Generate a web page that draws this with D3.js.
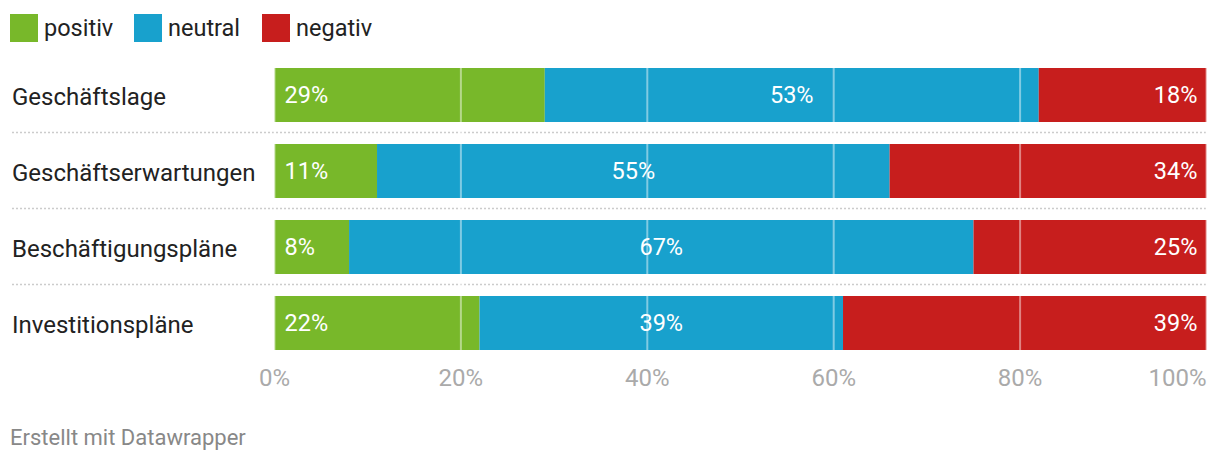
<!DOCTYPE html>
<html><head><meta charset="utf-8">
<script src="https://cdn.jsdelivr.net/npm/d3@7"></script>
<style>body{margin:0;background:#fff;font-family:Roboto,sans-serif}</style>
</head><body><svg id="c" width="1220" height="464"></svg>
<script>
const categories = ["Geschäftslage","Geschäftserwartungen","Beschäftigungspläne","Investitionspläne"];
const seriesNames = ["positiv","neutral","negativ"];
const positiv = [29,11,8,22];
const neutral = [53,55,67,39];
const negativ = [18,34,25,39];
const colors = ["#78b82a","#18a1cd","#c71e1d"];
const ticks = [0,20,40,60,80,100];

const svg = d3.select("#c");
const x = d3.scaleLinear().domain([0,100]).range([274.5,1206.5]);
const y = d3.scaleBand().domain(categories).range([68,350]).paddingInner(22/76).paddingOuter(0);
// legend
const lg = svg.append("g");
const lx = [10,134,262];
seriesNames.forEach((s,i)=>{
  lg.append("rect").attr("x",lx[i]).attr("y",14).attr("width",28).attr("height",28).attr("fill",colors[i]);
  lg.append("text").attr("x",lx[i]+34).attr("y",36).attr("font-size",23.5).attr("fill","#222").text(s);
});
const data = categories.map((c,i)=>({c, v:[positiv[i],neutral[i],negativ[i]]}));
const stack = d3.stack().keys([0,1,2]).value((d,k)=>d.v[k])(data);
// separators
categories.slice(1).forEach(c=>{
  svg.append("line").attr("x1",12).attr("x2",1207).attr("y1",y(c)-11.5).attr("y2",y(c)-11.5)
    .attr("stroke","#ccc").attr("stroke-width",1.5).attr("stroke-dasharray","2,2");
});
// labels
svg.selectAll("text.cat").data(categories).join("text").attr("class","cat")
  .attr("x",12).attr("y",c=>y(c)+y.bandwidth()/2+2).attr("dy","0.35em")
  .attr("font-size",24).attr("fill","#222").text(c=>c);
stack.forEach((layer,k)=>{
  svg.append("g").selectAll("rect").data(layer).join("rect")
    .attr("x",d=>x(d[0])).attr("width",d=>x(d[1])-x(d[0]))
    .attr("y",d=>y(d.data.c)).attr("height",y.bandwidth()).attr("fill",colors[k]);
});
// grid over bars
svg.append("g").selectAll("line").data(ticks).join("line")
  .attr("x1",d=>x(d)).attr("x2",d=>x(d)).attr("y1",y(categories[0])).attr("y2",y(categories[3])+y.bandwidth())
  .attr("stroke","#fff").attr("stroke-opacity",0.45).attr("stroke-width",2);
// value labels
stack.forEach((layer,k)=>{
  svg.append("g").selectAll("text").data(layer).join("text")
    .attr("x",d=> k===0 ? x(d[0])+10 : k===1 ? (x(d[0])+x(d[1]))/2 : x(d[1])-9)
    .attr("text-anchor", k===0?"start":k===1?"middle":"end")
    .attr("y",d=>y(d.data.c)+y.bandwidth()/2).attr("dy","0.35em")
    .attr("font-size",23.5).attr("fill","#fff").text(d=>d.data.v[k]+"%");
});
// axis
svg.append("g").selectAll("text").data(ticks).join("text")
  .attr("x",d=>x(d)).attr("y",386).attr("font-size",24).attr("fill","#aaa")
  .attr("text-anchor",(d,i)=>i===ticks.length-1?"end":"middle").text(d=>d+"%");
svg.append("text").attr("x",10).attr("y",445).attr("font-size",22).attr("fill","#888").text("Erstellt mit Datawrapper");
</script></body></html>
